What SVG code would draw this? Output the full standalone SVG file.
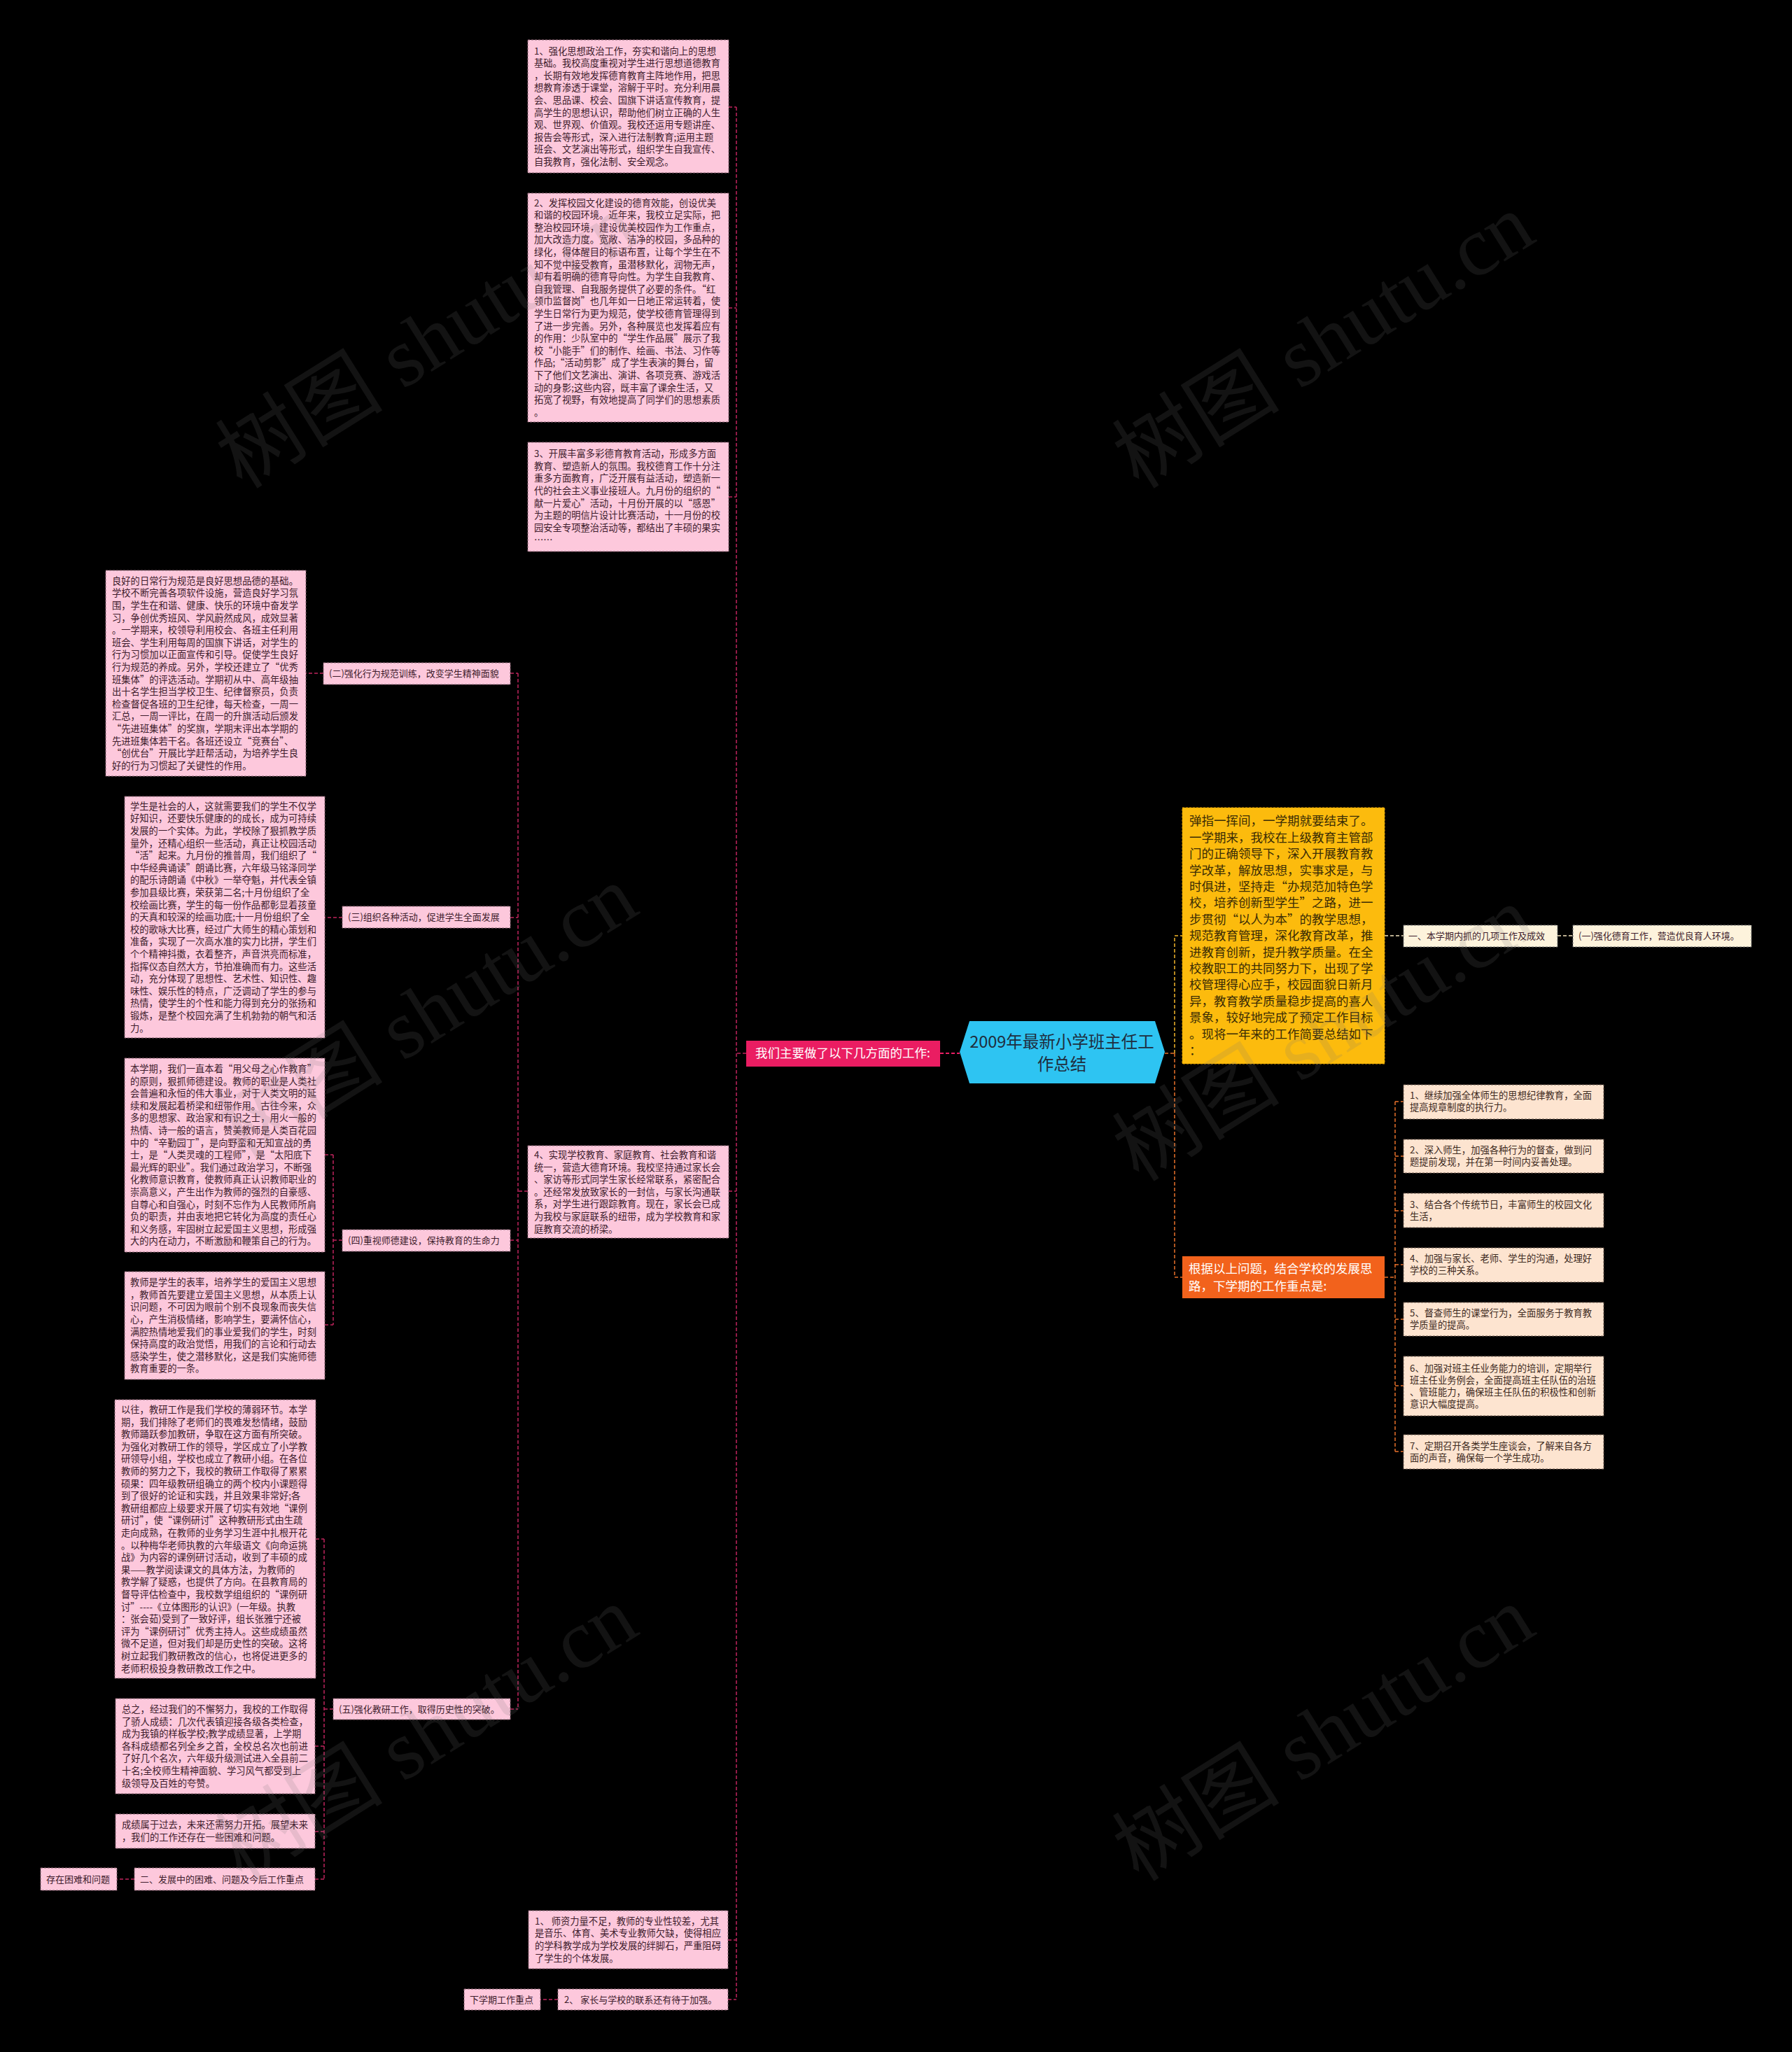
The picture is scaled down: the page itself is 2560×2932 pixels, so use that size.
<svg xmlns="http://www.w3.org/2000/svg" width="2560" height="2932" viewBox="0 0 2560 2932">
<style>
.t{font-family:"Noto Sans CJK SC","Liberation Sans",sans-serif}
.pk{fill:#fdc8dc;stroke:#8c6474;stroke-width:1;stroke-dasharray:3 2}
.pt{font-size:13.3px;fill:#3e1c2c}
.lb{font-size:13px;fill:#3e1c2c}
.ln{fill:none;stroke:#c0255d;stroke-width:1.5;stroke-dasharray:5 3}
.mg{fill:none;stroke:#e91e63;stroke-width:2;stroke-dasharray:5 3}
.yl{fill:none;stroke:#f2b52a;stroke-width:1.5;stroke-dasharray:5 3}
.cl{fill:none;stroke:#f3e3bd;stroke-width:1.5;stroke-dasharray:5 3}
.ol{fill:none;stroke:#e8702a;stroke-width:1.5;stroke-dasharray:5 3}
.pc{fill:#fde4d0;stroke:#6e5a4e;stroke-width:1;stroke-dasharray:3 2}
.ct{font-size:13.3px;fill:#3d2a1e}
.cr{fill:#fdf3dc;stroke:#777;stroke-width:1;stroke-dasharray:3 2}
.wm{font-family:"Liberation Serif","Noto Sans CJK SC",serif;font-size:120px;fill:#777;opacity:0.16}
</style>
<rect x="0" y="0" width="2560" height="2932" fill="#000"/>

<g id="connectors">
  <path class="mg" d="M1343 1505 H1371"/>
  <path class="ln" d="M1066 1505 H1052 M1052 153 V2857 M1041 153 H1052 M1041 440 H1052 M1041 710 H1052 M1041 1702 H1052 M1040 2772 H1052 M1040 2857 H1052"/>
  <path class="ln" d="M754 1702 H740 M740 962 V2442 M729 962 H740 M729 1311 H740 M729 1772 H740 M729 2442 H740"/>
  <path class="ln" d="M462 962 H437 M489 1311 H464"/>
  <path class="ln" d="M489 1772 H476 M476 1650 V1893 M464 1650 H476 M464 1893 H476"/>
  <path class="ln" d="M476 2442 H463 M463 2199 V2685 M451 2199 H463 M450 2495 H463 M450 2617 H463 M450 2685 H463"/>
  <path class="ln" d="M192 2685 H167 M797 2857 H772"/>
  <path class="ol" d="M1664 1505 H1678"/>
  <path class="yl" d="M1678 1505 V1337 H1689"/>
  <path class="ol" d="M1678 1505 V1825 H1689"/>
  <path class="cl" d="M1978 1337 H2005 M2225 1337 H2247"/>
  <path class="ol" d="M1978 1825 H1993 M1993 1574 V2074 M1993 1574 H2005 M1993 1652 H2005 M1993 1730 H2005 M1993 1807 H2005 M1993 1885 H2005 M1993 1980 H2005 M1993 2074 H2005"/>
</g>

<g id="center">
  <polygon points="1371,1503 1385,1459 1650,1459 1664,1503 1650,1548 1385,1548" fill="#2ec4f2"/>
  <text class="t" font-size="23.5" fill="#1f2d3d" text-anchor="middle"><tspan x="1517" y="1497">2009年最新小学班主任工</tspan><tspan x="1517" y="1529">作总结</tspan></text>
</g>

<g id="main-left">
  <rect x="1066" y="1487" width="277" height="37" fill="#ea1d62"/>
  <text class="t" font-size="17.5" fill="#fff" text-anchor="middle" x="1204" y="1511">我们主要做了以下几方面的工作:</text>
</g>

<g id="box1">
  <rect class="pk" x="754" y="57" width="287" height="190"/>
  <text class="t pt" x="763" y="77.5"><tspan x="763">1、强化思想政治工作，夯实和谐向上的思想</tspan><tspan x="763" dy="17.6">基础。我校高度重视对学生进行思想道德教育</tspan><tspan x="763" dy="17.6">，长期有效地发挥德育教育主阵地作用，把思</tspan><tspan x="763" dy="17.6">想教育渗透于课堂，溶解于平时。充分利用晨</tspan><tspan x="763" dy="17.6">会、思品课、校会、国旗下讲话宣传教育，提</tspan><tspan x="763" dy="17.6">高学生的思想认识，帮助他们树立正确的人生</tspan><tspan x="763" dy="17.6">观、世界观、价值观。我校还运用专题讲座、</tspan><tspan x="763" dy="17.6">报告会等形式，深入进行法制教育;运用主题</tspan><tspan x="763" dy="17.6">班会、文艺演出等形式，组织学生自我宣传、</tspan><tspan x="763" dy="17.6">自我教育，强化法制、安全观念。</tspan></text>
</g>

<g id="box2">
  <rect class="pk" x="754" y="276" width="287" height="327"/>
  <text class="t pt" x="763" y="294.6"><tspan x="763">2、发挥校园文化建设的德育效能，创设优美</tspan><tspan x="763" dy="17.6">和谐的校园环境。近年来，我校立足实际，把</tspan><tspan x="763" dy="17.6">整治校园环境，建设优美校园作为工作重点，</tspan><tspan x="763" dy="17.6">加大改造力度。宽敞、洁净的校园，多品种的</tspan><tspan x="763" dy="17.6">绿化，得体醒目的标语布置，让每个学生在不</tspan><tspan x="763" dy="17.6">知不觉中接受教育，虽潜移默化，润物无声，</tspan><tspan x="763" dy="17.6">却有着明确的德育导向性。为学生自我教育、</tspan><tspan x="763" dy="17.6">自我管理、自我服务提供了必要的条件。“红</tspan><tspan x="763" dy="17.6">领巾监督岗”也几年如一日地正常运转着，使</tspan><tspan x="763" dy="17.6">学生日常行为更为规范，使学校德育管理得到</tspan><tspan x="763" dy="17.6">了进一步完善。另外，各种展览也发挥着应有</tspan><tspan x="763" dy="17.6">的作用：少队室中的“学生作品展”展示了我</tspan><tspan x="763" dy="17.6">校“小能手”们的制作、绘画、书法、习作等</tspan><tspan x="763" dy="17.6">作品;“活动剪影”成了学生表演的舞台，留</tspan><tspan x="763" dy="17.6">下了他们文艺演出、演讲、各项竞赛、游戏活</tspan><tspan x="763" dy="17.6">动的身影;这些内容，既丰富了课余生活，又</tspan><tspan x="763" dy="17.6">拓宽了视野，有效地提高了同学们的思想素质</tspan><tspan x="763" dy="17.6">。</tspan></text>
</g>

<g id="box3">
  <rect class="pk" x="754" y="632" width="287" height="156"/>
  <text class="t pt" x="763" y="653.1"><tspan x="763">3、开展丰富多彩德育教育活动，形成多方面</tspan><tspan x="763" dy="17.6">教育、塑造新人的氛围。我校德育工作十分注</tspan><tspan x="763" dy="17.6">重多方面教育，广泛开展有益活动，塑造新一</tspan><tspan x="763" dy="17.6">代的社会主义事业接班人。九月份的组织的“</tspan><tspan x="763" dy="17.6">献一片爱心”活动，十月份开展的以“感恩”</tspan><tspan x="763" dy="17.6">为主题的明信片设计比赛活动，十一月份的校</tspan><tspan x="763" dy="17.6">园安全专项整治活动等，都结出了丰硕的果实</tspan><tspan x="763" dy="17.6">……</tspan></text>
</g>

<g id="box4">
  <rect class="pk" x="754" y="1637" width="287" height="132"/>
  <text class="t pt" x="763" y="1654.9"><tspan x="763">4、实现学校教育、家庭教育、社会教育和谐</tspan><tspan x="763" dy="17.6">统一，营造大德育环境。我校坚持通过家长会</tspan><tspan x="763" dy="17.6">、家访等形式同学生家长经常联系，紧密配合</tspan><tspan x="763" dy="17.6">。还经常发放致家长的一封信，与家长沟通联</tspan><tspan x="763" dy="17.6">系，对学生进行跟踪教育。现在，家长会已成</tspan><tspan x="763" dy="17.6">为我校与家庭联系的纽带，成为学校教育和家</tspan><tspan x="763" dy="17.6">庭教育交流的桥梁。</tspan></text>
</g>

<g id="label2">
  <rect class="pk" x="462" y="947" width="267" height="31"/>
  <text class="t lb" x="470" y="967.2">(二)强化行为规范训练，改变学生精神面貌</text>
</g>
<g id="text2">
  <rect class="pk" x="151" y="815" width="286" height="294"/>
  <text class="t pt" x="160" y="834.7"><tspan x="160">良好的日常行为规范是良好思想品德的基础。</tspan><tspan x="160" dy="17.6">学校不断完善各项软件设施，营造良好学习氛</tspan><tspan x="160" dy="17.6">围，学生在和谐、健康、快乐的环境中奋发学</tspan><tspan x="160" dy="17.6">习，争创优秀班风、学风蔚然成风，成效显著</tspan><tspan x="160" dy="17.6">。一学期来，校领导利用校会、各班主任利用</tspan><tspan x="160" dy="17.6">班会、学生利用每周的国旗下讲话，对学生的</tspan><tspan x="160" dy="17.6">行为习惯加以正面宣传和引导。促使学生良好</tspan><tspan x="160" dy="17.6">行为规范的养成。另外，学校还建立了“优秀</tspan><tspan x="160" dy="17.6">班集体”的评选活动。学期初从中、高年级抽</tspan><tspan x="160" dy="17.6">出十名学生担当学校卫生、纪律督察员，负责</tspan><tspan x="160" dy="17.6">检查督促各班的卫生纪律，每天检查，一周一</tspan><tspan x="160" dy="17.6">汇总，一周一评比，在周一的升旗活动后颁发</tspan><tspan x="160" dy="17.6">“先进班集体”的奖旗，学期末评出本学期的</tspan><tspan x="160" dy="17.6">先进班集体若干名。各班还设立“竞赛台”、</tspan><tspan x="160" dy="17.6">“创优台”开展比学赶帮活动，为培养学生良</tspan><tspan x="160" dy="17.6">好的行为习惯起了关键性的作用。</tspan></text>
</g>

<g id="label3">
  <rect class="pk" x="489" y="1295" width="240" height="31"/>
  <text class="t lb" x="497" y="1315.2">(三)组织各种活动，促进学生全面发展</text>
</g>
<g id="text3">
  <rect class="pk" x="178" y="1138" width="286" height="345"/>
  <text class="t pt" x="186" y="1156.8"><tspan x="186">学生是社会的人，这就需要我们的学生不仅学</tspan><tspan x="186" dy="17.6">好知识，还要快乐健康的的成长，成为可持续</tspan><tspan x="186" dy="17.6">发展的一个实体。为此，学校除了狠抓教学质</tspan><tspan x="186" dy="17.6">量外，还精心组织一些活动，真正让校园活动</tspan><tspan x="186" dy="17.6">“活”起来。九月份的推普周，我们组织了“</tspan><tspan x="186" dy="17.6">中华经典诵读”朗诵比赛，六年级马铭泽同学</tspan><tspan x="186" dy="17.6">的配乐诗朗诵《中秋》一举夺魁，并代表全镇</tspan><tspan x="186" dy="17.6">参加县级比赛，荣获第二名;十月份组织了全</tspan><tspan x="186" dy="17.6">校绘画比赛，学生的每一份作品都彰显着孩童</tspan><tspan x="186" dy="17.6">的天真和较深的绘画功底;十一月份组织了全</tspan><tspan x="186" dy="17.6">校的歌咏大比赛，经过广大师生的精心策划和</tspan><tspan x="186" dy="17.6">准备，实现了一次高水准的实力比拼，学生们</tspan><tspan x="186" dy="17.6">个个精神抖擞，衣着整齐，声音洪亮而标准，</tspan><tspan x="186" dy="17.6">指挥仪态自然大方，节拍准确而有力。这些活</tspan><tspan x="186" dy="17.6">动，充分体现了思想性、艺术性、知识性、趣</tspan><tspan x="186" dy="17.6">味性、娱乐性的特点，广泛调动了学生的参与</tspan><tspan x="186" dy="17.6">热情，使学生的个性和能力得到充分的张扬和</tspan><tspan x="186" dy="17.6">锻炼，是整个校园充满了生机勃勃的朝气和活</tspan><tspan x="186" dy="17.6">力。</tspan></text>
</g>

<g id="label4">
  <rect class="pk" x="489" y="1757" width="240" height="31"/>
  <text class="t lb" x="497" y="1777.2">(四)重视师德建设，保持教育的生命力</text>
</g>
<g id="text4a">
  <rect class="pk" x="178" y="1512" width="286" height="277"/>
  <text class="t pt" x="186" y="1532"><tspan x="186">本学期，我们一直本着“用父母之心作教育”</tspan><tspan x="186" dy="17.6">的原则，狠抓师德建设。教师的职业是人类社</tspan><tspan x="186" dy="17.6">会普遍和永恒的伟大事业，对于人类文明的延</tspan><tspan x="186" dy="17.6">续和发展起着桥梁和纽带作用。古往今来，众</tspan><tspan x="186" dy="17.6">多的思想家、政治家和有识之士，用火一般的</tspan><tspan x="186" dy="17.6">热情、诗一般的语言，赞美教师是人类百花园</tspan><tspan x="186" dy="17.6">中的“辛勤园丁”，是向野蛮和无知宣战的勇</tspan><tspan x="186" dy="17.6">士，是“人类灵魂的工程师”，是“太阳底下</tspan><tspan x="186" dy="17.6">最光辉的职业”。我们通过政治学习，不断强</tspan><tspan x="186" dy="17.6">化教师意识教育，使教师真正认识教师职业的</tspan><tspan x="186" dy="17.6">崇高意义，产生出作为教师的强烈的自豪感、</tspan><tspan x="186" dy="17.6">自尊心和自强心，时刻不忘作为人民教师所肩</tspan><tspan x="186" dy="17.6">负的职责，并由衷地把它转化为高度的责任心</tspan><tspan x="186" dy="17.6">和义务感，牢固树立起爱国主义思想，形成强</tspan><tspan x="186" dy="17.6">大的内在动力，不断激励和鞭策自己的行为。</tspan></text>
</g>
<g id="text4b">
  <rect class="pk" x="178" y="1817" width="286" height="154"/>
  <text class="t pt" x="186" y="1837.1"><tspan x="186">教师是学生的表率，培养学生的爱国主义思想</tspan><tspan x="186" dy="17.6">，教师首先要建立爱国主义思想，从本质上认</tspan><tspan x="186" dy="17.6">识问题，不可因为眼前个别不良现象而丧失信</tspan><tspan x="186" dy="17.6">心，产生消极情绪，影响学生，要满怀信心，</tspan><tspan x="186" dy="17.6">满腔热情地爱我们的事业爱我们的学生，时刻</tspan><tspan x="186" dy="17.6">保持高度的政治觉悟，用我们的言论和行动去</tspan><tspan x="186" dy="17.6">感染学生，使之潜移默化，这是我们实施师德</tspan><tspan x="186" dy="17.6">教育重要的一条。</tspan></text>
</g>

<g id="label5">
  <rect class="pk" x="476" y="2427" width="253" height="30"/>
  <text class="t lb" x="484" y="2446.7">(五)强化教研工作，取得历史性的突破。</text>
</g>
<g id="text5a">
  <rect class="pk" x="164" y="2000" width="287" height="398"/>
  <text class="t pt" x="173" y="2018.9"><tspan x="173">以往，教研工作是我们学校的薄弱环节。本学</tspan><tspan x="173" dy="17.6">期，我们排除了老师们的畏难发愁情绪，鼓励</tspan><tspan x="173" dy="17.6">教师踊跃参加教研，争取在这方面有所突破。</tspan><tspan x="173" dy="17.6">为强化对教研工作的领导，学区成立了小学教</tspan><tspan x="173" dy="17.6">研领导小组，学校也成立了教研小组。在各位</tspan><tspan x="173" dy="17.6">教师的努力之下，我校的教研工作取得了累累</tspan><tspan x="173" dy="17.6">硕果：四年级教研组确立的两个校内小课题得</tspan><tspan x="173" dy="17.6">到了很好的论证和实践，并且效果非常好;各</tspan><tspan x="173" dy="17.6">教研组都应上级要求开展了切实有效地“课例</tspan><tspan x="173" dy="17.6">研讨”，使“课例研讨”这种教研形式由生疏</tspan><tspan x="173" dy="17.6">走向成熟，在教师的业务学习生涯中扎根开花</tspan><tspan x="173" dy="17.6">。以种梅华老师执教的六年级语文《向命运挑</tspan><tspan x="173" dy="17.6">战》为内容的课例研讨活动，收到了丰硕的成</tspan><tspan x="173" dy="17.6">果——教学阅读课文的具体方法，为教师的</tspan><tspan x="173" dy="17.6">教学解了疑惑，也提供了方向。在县教育局的</tspan><tspan x="173" dy="17.6">督导评估检查中，我校数学组组织的“课例研</tspan><tspan x="173" dy="17.6">讨”----《立体图形的认识》(一年级。执教</tspan><tspan x="173" dy="17.6">：张会茹)受到了一致好评，组长张雅宁还被</tspan><tspan x="173" dy="17.6">评为“课例研讨”优秀主持人。这些成绩虽然</tspan><tspan x="173" dy="17.6">微不足道，但对我们却是历史性的突破。这将</tspan><tspan x="173" dy="17.6">树立起我们教研教改的信心，也将促进更多的</tspan><tspan x="173" dy="17.6">老师积极投身教研教改工作之中。</tspan></text>
</g>
<g id="text5b">
  <rect class="pk" x="165" y="2427" width="285" height="136"/>
  <text class="t pt" x="174" y="2446.9"><tspan x="174">总之，经过我们的不懈努力，我校的工作取得</tspan><tspan x="174" dy="17.6">了骄人成绩：几次代表镇迎接各级各类检查，</tspan><tspan x="174" dy="17.6">成为我镇的样板学校;教学成绩显著，上学期</tspan><tspan x="174" dy="17.6">各科成绩都名列全乡之首，全校总名次也前进</tspan><tspan x="174" dy="17.6">了好几个名次，六年级升级测试进入全县前二</tspan><tspan x="174" dy="17.6">十名;全校师生精神面貌、学习风气都受到上</tspan><tspan x="174" dy="17.6">级领导及百姓的夸赞。</tspan></text>
</g>
<g id="text5c">
  <rect class="pk" x="165" y="2592" width="285" height="49"/>
  <text class="t pt" x="174" y="2612.4"><tspan x="174">成绩属于过去，未来还需努力开拓。展望未来</tspan><tspan x="174" dy="17.6">，我们的工作还存在一些困难和问题。</tspan></text>
</g>
<g id="sec2">
  <rect class="pk" x="192" y="2669" width="258" height="32"/>
  <text class="t lb" x="200" y="2689.7">二、发展中的困难、问题及今后工作重点</text>
</g>
<g id="problems">
  <rect class="pk" x="58" y="2669" width="109" height="32"/>
  <text class="t lb" x="66" y="2689.7">存在困难和问题</text>
</g>

<g id="bottom1">
  <rect class="pk" x="755" y="2730" width="285" height="83"/>
  <text class="t pt" x="764" y="2749.8"><tspan x="764">1、 师资力量不足，教师的专业性较差，尤其</tspan><tspan x="764" dy="17.6">是音乐、体育、美术专业教师欠缺，使得相应</tspan><tspan x="764" dy="17.6">的学科教学成为学校发展的绊脚石，严重阻碍</tspan><tspan x="764" dy="17.6">了学生的个体发展。</tspan></text>
</g>
<g id="bottom2">
  <rect class="pk" x="797" y="2842" width="243" height="30"/>
  <text class="t lb" x="806" y="2861.7">2、 家长与学校的联系还有待于加强。</text>
</g>
<g id="nextterm">
  <rect class="pk" x="663" y="2842" width="109" height="30"/>
  <text class="t lb" x="671" y="2861.7">下学期工作重点</text>
</g>

<g id="intro">
  <rect x="1689" y="1154" width="289" height="366" fill="#fcbb0d" stroke="#e0a000" stroke-width="1" stroke-dasharray="3 2"/>
  <text class="t" font-size="17.5" fill="#3a2c05" x="1699" y="1179.3"><tspan x="1699">弹指一挥间，一学期就要结束了。</tspan><tspan x="1699" dy="23.4">一学期来，我校在上级教育主管部</tspan><tspan x="1699" dy="23.4">门的正确领导下，深入开展教育教</tspan><tspan x="1699" dy="23.4">学改革，解放思想，实事求是，与</tspan><tspan x="1699" dy="23.4">时俱进，坚持走“办规范加特色学</tspan><tspan x="1699" dy="23.4">校，培养创新型学生”之路，进一</tspan><tspan x="1699" dy="23.4">步贯彻“以人为本”的教学思想，</tspan><tspan x="1699" dy="23.4">规范教育管理，深化教育改革，推</tspan><tspan x="1699" dy="23.4">进教育创新，提升教学质量。在全</tspan><tspan x="1699" dy="23.4">校教职工的共同努力下，出现了学</tspan><tspan x="1699" dy="23.4">校管理得心应手，校园面貌日新月</tspan><tspan x="1699" dy="23.4">异，教育教学质量稳步提高的喜人</tspan><tspan x="1699" dy="23.4">景象，较好地完成了预定工作目标</tspan><tspan x="1699" dy="23.4">。现将一年来的工作简要总结如下</tspan><tspan x="1699" dy="23.4">：</tspan></text>
</g>

<g id="part1">
  <rect class="cr" x="2005" y="1322" width="220" height="31"/>
  <text class="t lb" x="2012" y="1342.2" fill="#4a4030">一、本学期内抓的几项工作及成效</text>
</g>
<g id="part1a">
  <rect class="cr" x="2247" y="1322" width="255" height="31"/>
  <text class="t lb" x="2255" y="1342.2" fill="#4a4030">(一)强化德育工作，营造优良育人环境。</text>
</g>

<g id="plan">
  <rect x="1689" y="1795" width="289" height="60" fill="#f2621c"/>
  <text class="t" font-size="17.5" fill="#fff" x="1698" y="1818.6"><tspan x="1698">根据以上问题，结合学校的发展思</tspan><tspan x="1698" dy="25">路，下学期的工作重点是:</tspan></text>
</g>

<g id="item1">
  <rect class="pc" x="2005" y="1550" width="286" height="49"/>
  <text class="t ct" x="2014" y="1570.2"><tspan x="2014">1、继续加强全体师生的思想纪律教育，全面</tspan><tspan x="2014" dy="17">提高规章制度的执行力。</tspan></text>
</g>
<g id="item2">
  <rect class="pc" x="2005" y="1628" width="286" height="48"/>
  <text class="t ct" x="2014" y="1648.2"><tspan x="2014">2、深入师生，加强各种行为的督查，做到问</tspan><tspan x="2014" dy="17">题提前发现，并在第一时间内妥善处理。</tspan></text>
</g>
<g id="item3">
  <rect class="pc" x="2005" y="1705" width="286" height="49"/>
  <text class="t ct" x="2014" y="1726.2"><tspan x="2014">3、结合各个传统节日，丰富师生的校园文化</tspan><tspan x="2014" dy="17">生活，</tspan></text>
</g>
<g id="item4">
  <rect class="pc" x="2005" y="1783" width="286" height="49"/>
  <text class="t ct" x="2014" y="1803.2"><tspan x="2014">4、加强与家长、老师、学生的沟通，处理好</tspan><tspan x="2014" dy="17">学校的三种关系。</tspan></text>
</g>
<g id="item5">
  <rect class="pc" x="2005" y="1861" width="286" height="48"/>
  <text class="t ct" x="2014" y="1881.2"><tspan x="2014">5、督查师生的课堂行为，全面服务于教育教</tspan><tspan x="2014" dy="17">学质量的提高。</tspan></text>
</g>
<g id="item6">
  <rect class="pc" x="2005" y="1938" width="286" height="85"/>
  <text class="t ct" x="2014" y="1959.7"><tspan x="2014">6、加强对班主任业务能力的培训，定期举行</tspan><tspan x="2014" dy="17">班主任业务例会，全面提高班主任队伍的治班</tspan><tspan x="2014" dy="17">、管班能力，确保班主任队伍的积极性和创新</tspan><tspan x="2014" dy="17">意识大幅度提高。</tspan></text>
</g>
<g id="item7">
  <rect class="pc" x="2005" y="2050" width="286" height="49"/>
  <text class="t ct" x="2014" y="2070.7"><tspan x="2014">7、定期召开各类学生座谈会，了解来自各方</tspan><tspan x="2014" dy="17">面的声音，确保每一个学生成功。</tspan></text>
</g>

<g id="watermarks">
  <text class="wm" transform="translate(346,700) rotate(-32)">树图 shutu.cn</text>
  <text class="wm" transform="translate(1627,700) rotate(-32)">树图 shutu.cn</text>
  <text class="wm" transform="translate(346,1660) rotate(-32)">树图 shutu.cn</text>
  <text class="wm" transform="translate(1627,1690) rotate(-32)">树图 shutu.cn</text>
  <text class="wm" transform="translate(346,2690) rotate(-32)">树图 shutu.cn</text>
  <text class="wm" transform="translate(1627,2690) rotate(-32)">树图 shutu.cn</text>
</g>
</svg>
